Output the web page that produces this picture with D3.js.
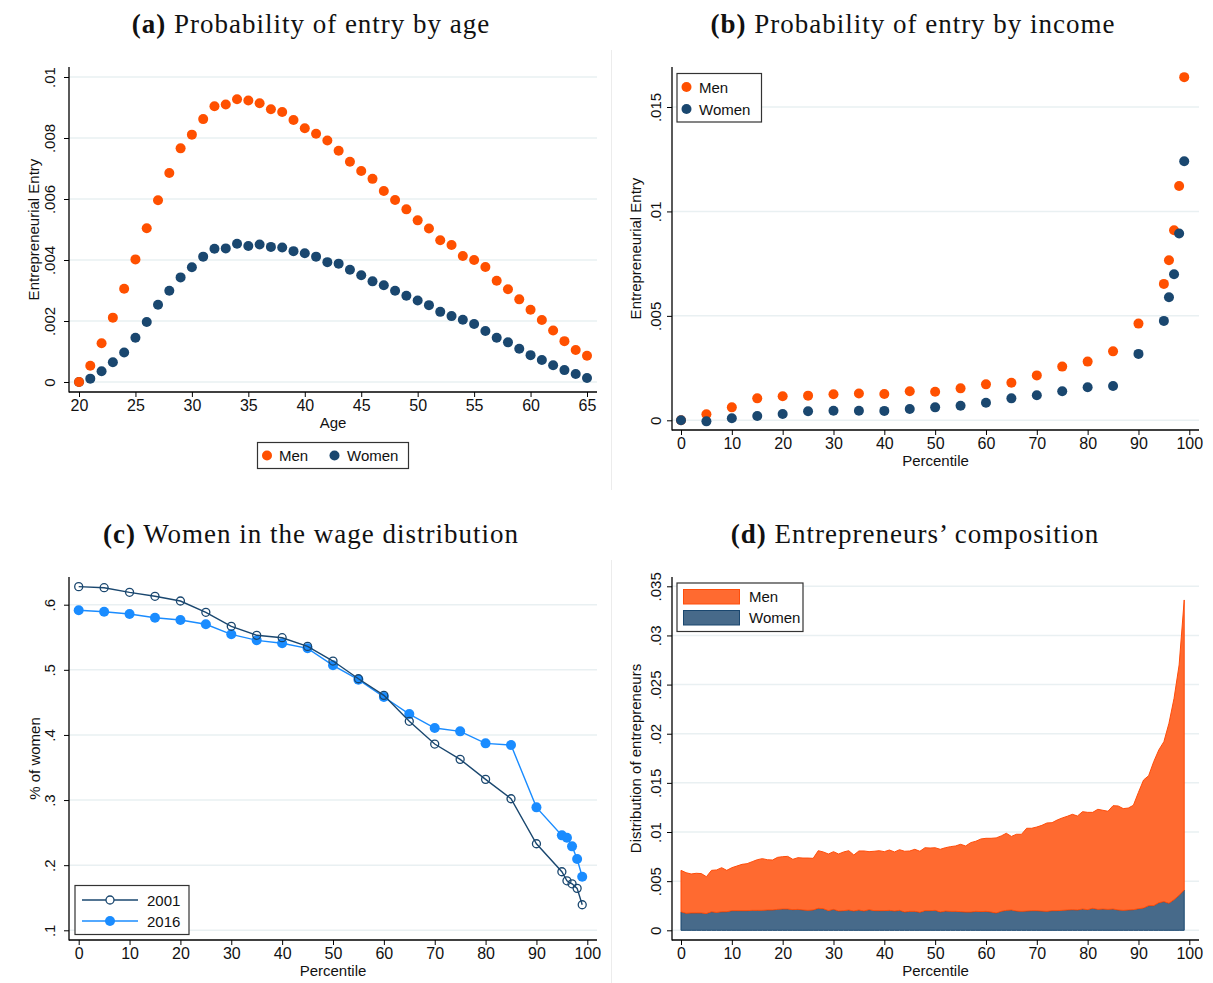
<!DOCTYPE html>
<meta charset="utf-8">

<!-- Load d3.js -->
<script src="https://d3js.org/d3.v7.min.js"></script>

<style>
  body { margin: 0; background: #fff; }
  text { font-family: "Liberation Sans", Arial, sans-serif; }
  .title { font-family: "Liberation Serif", "Times New Roman", serif; }
</style>

<div id="my_dataviz"></div>

<script>

// ---------- data: (a) probability of entry by age ----------
var ages = [20,21,22,23,24,25,26,27,28,29,30,31,32,33,34,35,36,37,38,39,40,41,42,
            43,44,45,46,47,48,49,50,51,52,53,54,55,56,57,58,59,60,61,62,63,64,65];
var ageMen = [0,.00053,.00127,.00211,.00306,.00402,.00504,.00596,.00685,.00766,.00811,.00862,
              .00904,.0091,.00927,.00923,.00914,.00894,.00885,.00859,.00832,.00814,.00792,.00758,
              .00722,.00692,.00666,.00626,.00597,.00566,.0053,.00503,.00465,.00449,.00413,.004,
              .00377,.00332,.00304,.00271,.00237,.00203,.00169,.00134,.00105,.00086];
var ageWomen = [0,.00011,.00035,.00065,.00097,.00145,.00197,.00253,.00299,.00343,.00376,.00411,
                .00437,.00438,.00453,.00446,.00451,.00443,.00441,.00429,.00422,.00411,.00393,.00388,
                .00368,.0035,.0033,.00317,.00299,.00283,.00267,.00252,.0023,.00216,.00204,.0019,
                .00167,.00145,.0013,.00109,.00088,.00072,.00055,.00039,.00026,.00013];

// ---------- data: (b) probability of entry by income ----------
var incomePct = [0,5,10,15,20,25,30,35,40,45,50,55,60,65,70,75,80,85,90,95,96,97,98,99];
var incomeMen = [0,.00029,.00062,.00105,.00115,.00118,.00125,.00128,.00126,.00139,.00137,.00153,
                 .00172,.0018,.00215,.00257,.00281,.0033,.00463,.00653,.00766,.0091,.01122,.01643];
var incomeWomen = [0,-.00005,.0001,.00021,.0003,.00043,.00046,.00046,.00045,.00054,.00062,.0007,
                   .00084,.00105,.0012,.00139,.00158,.00164,.00318,.00476,.00589,.00699,.00894,.0124];

// ---------- data: (c) women in the wage distribution ----------
var wagePct = [0,5,10,15,20,25,30,35,40,45,50,55,60,65,70,75,80,85,90,95,96,97,98,99];
var wage2001 = [.6277,.6261,.619,.6129,.6057,.5883,.5668,.553,.5493,.536,.5135,.4863,.4608,
                .4209,.386,.3625,.3318,.302,.2329,.1899,.176,.1714,.1644,.1392];
var wage2016 = [.5914,.5892,.5857,.58,.5765,.5699,.5545,.5453,.5407,.533,.5069,.4848,.4582,
                .4321,.4106,.4055,.3871,.3845,.2888,.2458,.2421,.2289,.2094,.1822];

// ---------- data: (d) entrepreneurs' composition ----------
var compPct = [0,1,2,3,4,5,6,7,8,9,10,11,12,13,14,15,16,17,18,19,20,21,22,23,24,25,26,27,28,29,
               30,31,32,33,34,35,36,37,38,39,40,41,42,43,44,45,46,47,48,49,50,51,52,53,54,55,56,
               57,58,59,60,61,62,63,64,65,66,67,68,69,70,71,72,73,74,75,76,77,78,79,80,81,82,83,
               84,85,86,87,88,89,90,91,92,93,94,95,96,97,98,99];
var compWomen = [.00189,.00173,.00177,.00177,.00177,.0017,.00189,.00182,.00189,.00189,
                 .002,.002,.002,.002,.00203,.00203,.00203,.00207,.00207,.00213,
                 .00217,.00217,.0021,.00213,.00207,.00203,.00207,.00224,.0022,.002,
                 .00213,.00197,.002,.00207,.00196,.00207,.00196,.0021,.002,.002,
                 .002,.00203,.00196,.00203,.00186,.00193,.00193,.00183,.002,.002,
                 .00203,.00186,.00196,.00193,.00193,.0019,.00186,.00186,.00193,.0019,
                 .00193,.00186,.00176,.00193,.00203,.00207,.00196,.00193,.00196,.002,
                 .002,.00196,.00193,.002,.002,.00203,.00207,.0021,.00207,.00217,
                 .0021,.00224,.00213,.00217,.00213,.00217,.00207,.00203,.00207,.0021,
                 .0022,.00227,.00251,.00251,.00281,.00292,.00275,.00312,.00356,.0041];
var compMen = [.00421,.00413,.00396,.00403,.004,.00375,.00421,.00432,.00448,.00421,
               .00437,.00454,.00471,.00478,.00495,.00515,.00526,.00511,.00508,.00529,
               .00532,.00535,.00512,.00526,.00528,.00532,.00525,.00586,.00577,.00576,
               .00587,.00579,.00597,.00603,.0057,.006,.00611,.0059,.00604,.0061,
               .006,.00614,.00601,.00617,.00618,.00614,.00631,.00621,.0064,.00637,
               .00637,.00638,.00644,.00658,.00665,.00685,.00672,.00706,.00713,.00739,
               .00743,.0075,.00764,.00767,.00784,.00748,.00781,.00784,.00842,.00838,
               .00851,.00872,.00899,.00895,.00922,.0094,.00953,.0097,.00956,.0099,
               .0099,.00976,.01018,.01004,.00998,.01051,.01058,.01035,.01037,.01062,
               .01184,.01302,.01322,.01465,.01554,.01627,.01831,.02048,.02344,.02951];

// ---------- tick values and labels ----------
var ageTicks = [20,25,30,35,40,45,50,55,60,65];
var pctTicks = [0,10,20,30,40,50,60,70,80,90,100];
var aYTicks = [0,.002,.004,.006,.008,.01];
var aYLabels = ["0",".002",".004",".006",".008",".01"];
var bYTicks = [0,.005,.01,.015];
var bYLabels = ["0",".005",".01",".015"];
var cYTicks = [.1,.2,.3,.4,.5,.6];
var cYLabels = [".1",".2",".3",".4",".5",".6"];
var dYTicks = [0,.005,.01,.015,.02,.025,.03,.035];
var dYLabels = ["0",".005",".01",".015",".02",".025",".03",".035"];

// colours
var menColor = "#ff5000",
    womenColor = "#1a476f",
    c2016Color = "#1a8cff",
    menFill = "#ff6a30",
    womenFill = "#476a8a",
    gridColor = "#e9f0f2";

var svg = d3.select("#my_dataviz")
  .append("svg")
    .attr("width", 1213)
    .attr("height", 983);

svg.append("rect").attr("width", 1213).attr("height", 983).attr("fill", "#fff");

// faint divider between the sub-figures
svg.append("line").attr("x1", 611.5).attr("x2", 611.5).attr("y1", 50).attr("y2", 490)
  .attr("stroke", "#ececec");
svg.append("line").attr("x1", 611.5).attr("x2", 611.5).attr("y1", 560).attr("y2", 983)
  .attr("stroke", "#ececec");

// plot frames (pixel boxes of each panel)
var frameA = {left: 69, right: 597, top: 67, bottom: 392},
    frameB = {left: 672, right: 1199, top: 67, bottom: 430},
    frameC = {left: 69, right: 597, top: 577, bottom: 940},
    frameD = {left: 672, right: 1199, top: 577, bottom: 940};

// scales
var xA = d3.scaleLinear().domain([20, 65]).range([79, 587]),
    yA = d3.scaleLinear().domain([0, .01]).range([382, 77]);
var xB = d3.scaleLinear().domain([0, 100]).range([681, 1189.3]),
    yB = d3.scaleLinear().domain([0, .015]).range([420.3, 107]);
var xC = d3.scaleLinear().domain([0, 100]).range([78.7, 587.3]),
    yC = d3.scaleLinear().domain([.1, .6]).range([930.3, 604.7]);
var xD = d3.scaleLinear().domain([0, 100]).range([681, 1189.3]),
    yD = d3.scaleLinear().domain([0, .035]).range([930.3, 586.3]);

// titles
function addTitle(cx, y, letter, label) {
  var t = svg.append("text")
    .attr("class", "title")
    .attr("x", cx)
    .attr("y", y)
    .attr("text-anchor", "middle")
    .style("font-size", "27px")
    .style("letter-spacing", "1px")
    .attr("fill", "#111");
  t.append("tspan").style("font-weight", "bold").text("(" + letter + ")");
  t.append("tspan").text(" " + label);
}
addTitle(311, 33, "a", "Probability of entry by age");
addTitle(913, 33, "b", "Probability of entry by income");
addTitle(311, 543, "c", "Women in the wage distribution");
addTitle(915, 543, "d", "Entrepreneurs\u2019 composition");

// gridlines
function addGrid(frame, y, ticks) {
  svg.append("g").selectAll("line")
    .data(ticks)
    .enter()
    .append("line")
      .attr("x1", frame.left)
      .attr("x2", frame.right)
      .attr("y1", function(d) { return y(d); })
      .attr("y2", function(d) { return y(d); })
      .attr("stroke", gridColor)
      .attr("stroke-width", 1.5);
}

// axes, labels and titles
function addAxes(frame, x, y, xTicks, yTicks, yLabels, xTitle, yTitle, k, yTitleX) {
  var xa = svg.append("g")
    .attr("transform", "translate(0," + frame.bottom + ")")
    .call(d3.axisBottom(x).tickValues(xTicks).tickSize(5).tickSizeOuter(0));
  xa.select(".domain").remove();
  xa.selectAll("line").attr("stroke", "#000");
  xa.selectAll("text")
    .attr("y", 8)
    .attr("fill", "#111")
    .style("font-size", "16px")
    .style("font-family", "'Liberation Sans', Arial, sans-serif");

  var ya = svg.append("g")
    .attr("transform", "translate(" + frame.left + ",0)")
    .call(d3.axisLeft(y).tickValues(yTicks).tickFormat(function(d, i) { return yLabels[i]; })
      .tickSize(5).tickSizeOuter(0));
  ya.select(".domain").remove();
  ya.selectAll("line").attr("stroke", "#000");
  ya.selectAll("text")
    .attr("x", 0)
    .attr("dy", 0)
    .attr("y", -k)
    .attr("transform", "rotate(-90)")
    .style("text-anchor", "middle")
    .attr("fill", "#111")
    .style("font-size", "15px")
    .style("font-family", "'Liberation Sans', Arial, sans-serif");

  // axis lines
  svg.append("line")
    .attr("x1", frame.left).attr("x2", frame.left)
    .attr("y1", frame.top).attr("y2", frame.bottom + 0.6)
    .attr("stroke", "#000").attr("stroke-width", 1.3);
  svg.append("line")
    .attr("x1", frame.left).attr("x2", frame.right)
    .attr("y1", frame.bottom).attr("y2", frame.bottom)
    .attr("stroke", "#000").attr("stroke-width", 1.3);

  // x title
  svg.append("text")
    .attr("x", (frame.left + frame.right) / 2)
    .attr("y", frame.bottom + 36)
    .attr("text-anchor", "middle")
    .style("font-size", "15px")
    .attr("fill", "#111")
    .text(xTitle);

  // y title
  svg.append("text")
    .attr("transform", "translate(" + yTitleX + "," + ((frame.top + frame.bottom) / 2) + ") rotate(-90)")
    .attr("text-anchor", "middle")
    .style("font-size", "15px")
    .attr("fill", "#111")
    .text(yTitle);
}

// ================= (a) =================
addGrid(frameA, yA, aYTicks);

svg.append("g").selectAll("circle")
  .data(ages)
  .enter()
  .append("circle")
    .attr("cx", function(d) { return xA(d); })
    .attr("cy", function(d, i) { return yA(ageWomen[i]); })
    .attr("r", 5)
    .attr("fill", womenColor);

svg.append("g").selectAll("circle")
  .data(ages)
  .enter()
  .append("circle")
    .attr("cx", function(d) { return xA(d); })
    .attr("cy", function(d, i) { return yA(ageMen[i]); })
    .attr("r", 5)
    .attr("fill", menColor);

addAxes(frameA, xA, yA, ageTicks, aYTicks, aYLabels, "Age", "Entrepreneurial Entry", 14, 39);

// legend (a)
var legA = svg.append("g");
legA.append("rect").attr("x", 257.5).attr("y", 442.5).attr("width", 151).attr("height", 26)
  .attr("fill", "#fff").attr("stroke", "#333").attr("stroke-width", 1.2);
legA.append("circle").attr("cx", 267).attr("cy", 455.5).attr("r", 5).attr("fill", menColor);
legA.append("text").attr("x", 279).attr("y", 461).style("font-size", "15px").attr("fill", "#111").text("Men");
legA.append("circle").attr("cx", 334.5).attr("cy", 455.5).attr("r", 5).attr("fill", womenColor);
legA.append("text").attr("x", 347).attr("y", 461).style("font-size", "15px").attr("fill", "#111").text("Women");

// ================= (b) =================
addGrid(frameB, yB, bYTicks);

svg.append("g").selectAll("circle")
  .data(incomePct)
  .enter()
  .append("circle")
    .attr("cx", function(d) { return xB(d); })
    .attr("cy", function(d, i) { return yB(incomeMen[i]); })
    .attr("r", 5)
    .attr("fill", menColor);

svg.append("g").selectAll("circle")
  .data(incomePct)
  .enter()
  .append("circle")
    .attr("cx", function(d) { return xB(d); })
    .attr("cy", function(d, i) { return yB(incomeWomen[i]); })
    .attr("r", 5)
    .attr("fill", womenColor);

addAxes(frameB, xB, yB, pctTicks, bYTicks, bYLabels, "Percentile", "Entrepreneurial Entry", 11.5, 641);

// legend (b)
var legB = svg.append("g");
legB.append("rect").attr("x", 677).attr("y", 73.5).attr("width", 84.5).attr("height", 48.5)
  .attr("fill", "#fff").attr("stroke", "#333").attr("stroke-width", 1.2);
legB.append("circle").attr("cx", 686.5).attr("cy", 87).attr("r", 5).attr("fill", menColor);
legB.append("text").attr("x", 699).attr("y", 92.5).style("font-size", "15px").attr("fill", "#111").text("Men");
legB.append("circle").attr("cx", 686.5).attr("cy", 109).attr("r", 5).attr("fill", womenColor);
legB.append("text").attr("x", 699).attr("y", 114.5).style("font-size", "15px").attr("fill", "#111").text("Women");

// ================= (c) =================
addGrid(frameC, yC, cYTicks);

var lineC = d3.line()
  .x(function(d) { return xC(d[0]); })
  .y(function(d) { return yC(d[1]); });

var pts2001 = wagePct.map(function(p, i) { return [p, wage2001[i]]; });
var pts2016 = wagePct.map(function(p, i) { return [p, wage2016[i]]; });

svg.append("path")
  .attr("d", lineC(pts2016))
  .attr("fill", "none")
  .attr("stroke", c2016Color)
  .attr("stroke-width", 1.4);
svg.append("g").selectAll("circle")
  .data(pts2016)
  .enter()
  .append("circle")
    .attr("cx", function(d) { return xC(d[0]); })
    .attr("cy", function(d) { return yC(d[1]); })
    .attr("r", 5)
    .attr("fill", c2016Color);

svg.append("path")
  .attr("d", lineC(pts2001))
  .attr("fill", "none")
  .attr("stroke", womenColor)
  .attr("stroke-width", 1.4);
svg.append("g").selectAll("circle")
  .data(pts2001)
  .enter()
  .append("circle")
    .attr("cx", function(d) { return xC(d[0]); })
    .attr("cy", function(d) { return yC(d[1]); })
    .attr("r", 4)
    .attr("fill", "none")
    .attr("stroke", womenColor)
    .attr("stroke-width", 1.3);

addAxes(frameC, xC, yC, pctTicks, cYTicks, cYLabels, "Percentile", "% of women", 14, 39.5);

// legend (c)
var legC = svg.append("g");
legC.append("rect").attr("x", 75).attr("y", 885.5).attr("width", 114).attr("height", 49)
  .attr("fill", "#fff").attr("stroke", "#333").attr("stroke-width", 1.2);
legC.append("line").attr("x1", 82).attr("x2", 138).attr("y1", 900).attr("y2", 900)
  .attr("stroke", womenColor).attr("stroke-width", 1.4);
legC.append("circle").attr("cx", 110).attr("cy", 900).attr("r", 4)
  .attr("fill", "#fff").attr("stroke", womenColor).attr("stroke-width", 1.3);
legC.append("text").attr("x", 147).attr("y", 905.5).style("font-size", "15px").attr("fill", "#111").text("2001");
legC.append("line").attr("x1", 82).attr("x2", 138).attr("y1", 921).attr("y2", 921)
  .attr("stroke", c2016Color).attr("stroke-width", 1.4);
legC.append("circle").attr("cx", 110).attr("cy", 921).attr("r", 5).attr("fill", c2016Color);
legC.append("text").attr("x", 147).attr("y", 926.5).style("font-size", "15px").attr("fill", "#111").text("2016");

// ================= (d) =================
addGrid(frameD, yD, dYTicks);

var compRows = compPct.map(function(p, i) {
  return {pct: p, women: compWomen[i], men: compMen[i]};
});
var stacked = d3.stack().keys(["women", "men"])(compRows);

var areaD = d3.area()
  .x(function(d) { return xD(d.data.pct); })
  .y0(function(d) { return yD(d[0]); })
  .y1(function(d) { return yD(d[1]); });

svg.append("g").selectAll("path")
  .data(stacked)
  .enter()
  .append("path")
    .attr("d", areaD)
    .attr("fill", function(d) { return d.key === "men" ? menFill : womenFill; })
    .attr("stroke", function(d) { return d.key === "men" ? "#ff4d0a" : womenColor; })
    .attr("stroke-width", 1)
    .attr("stroke-linejoin", "round");

addAxes(frameD, xD, yD, pctTicks, dYTicks, dYLabels, "Percentile", "Distribution of entrepreneurs", 11.5, 641);

// legend (d)
var legD = svg.append("g");
legD.append("rect").attr("x", 677).attr("y", 583).attr("width", 126).attr("height", 48.5)
  .attr("fill", "#fff").attr("stroke", "#333").attr("stroke-width", 1.2);
legD.append("rect").attr("x", 683.5).attr("y", 589.5).attr("width", 56).attr("height", 14.5)
  .attr("fill", menFill).attr("stroke", "#ff4d0a");
legD.append("text").attr("x", 749).attr("y", 602).style("font-size", "15px").attr("fill", "#111").text("Men");
legD.append("rect").attr("x", 683.5).attr("y", 610.5).attr("width", 56).attr("height", 14.5)
  .attr("fill", womenFill).attr("stroke", womenColor);
legD.append("text").attr("x", 749).attr("y", 623).style("font-size", "15px").attr("fill", "#111").text("Women");

</script>
